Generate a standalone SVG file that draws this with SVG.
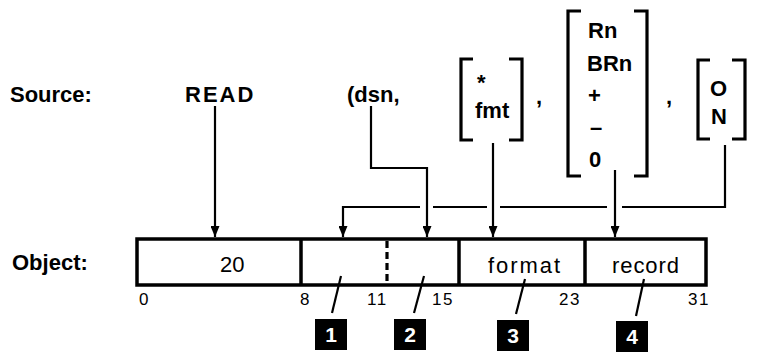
<svg xmlns="http://www.w3.org/2000/svg" width="765" height="353" viewBox="0 0 765 353">
<defs>
<marker id="ah" viewBox="0 0 11 9" refX="11" refY="4.5" markerWidth="11" markerHeight="9" markerUnits="userSpaceOnUse" orient="auto">
<path d="M0,0 L11,4.5 L0,9 Z" fill="#000"/>
</marker>
</defs>
<style>
text{font-family:"Liberation Sans",Arial,sans-serif;fill:#000}
.lbl{font-weight:bold;font-size:22px}
.src{font-weight:bold;font-size:22px}
.fld{font-size:22px}
.bit{font-size:17px}
.bt{font-weight:bold;font-size:21px;fill:#fff;text-anchor:middle}
.ln{fill:none;stroke:#000;stroke-width:2.2}
.box{fill:none;stroke:#000;stroke-width:3.5}
.br{fill:none;stroke:#000;stroke-width:3.2}
.bx{fill:#000}
</style>
<g id="labels">
<text class="lbl" x="10" y="102">Source:</text>
<text class="lbl" x="12" y="270">Object:</text>
</g>
<g id="source">
<text class="src" x="185" y="102" letter-spacing="2">READ</text>
<text class="src" x="347" y="102">(dsn,</text>
<g id="fmt-group">
<path class="br" d="M473,59 H461 V140 H473"/>
<path class="br" d="M509,59 H522 V140 H509"/>
<text class="src" x="477" y="90">*</text>
<text class="src" x="475" y="118">fmt</text>
</g>
<text class="src" x="536" y="104">,</text>
<g id="rec-group">
<path class="br" d="M581,11 H568 V176 H581"/>
<path class="br" d="M634,11 H647 V176 H634"/>
<text class="src" x="588" y="38">Rn</text>
<text class="src" x="587" y="71">BRn</text>
<text class="src" x="588" y="103">+</text>
<text class="src" x="590" y="135">–</text>
<text class="src" x="589" y="167">0</text>
</g>
<text class="src" x="666" y="104">,</text>
<g id="on-group">
<path class="br" d="M710,60 H698 V139 H710"/>
<path class="br" d="M732,60 H745 V139 H732"/>
<text class="src" x="710" y="96">O</text>
<text class="src" x="711" y="124">N</text>
</g>
</g>
<g id="connectors">
<path class="ln" d="M215,106 V237" marker-end="url(#ah)"/>
<path class="ln" d="M371,106 V168 H427 V237" marker-end="url(#ah)"/>
<path class="ln" d="M725,145 V207 H622"/>
<path class="ln" d="M607,207 H500"/>
<path class="ln" d="M487,207 H433"/>
<path class="ln" d="M420,207 H343 V237" marker-end="url(#ah)"/>
<path class="ln" d="M493,143 V237" marker-end="url(#ah)"/>
<path class="ln" d="M615,170 V237" marker-end="url(#ah)"/>
<path class="ln" d="M341,276 L332,313"/>
<path class="ln" d="M424,276 L414,313"/>
<path class="ln" d="M525,279 L516,314"/>
<path class="ln" d="M644,279 L636,316"/>
</g>
<g id="object">
<rect class="box" x="137" y="239" width="569" height="46"/>
<path class="box" d="M301,239 V285 M459,239 V285 M585,239 V285"/>
<path d="M387,241 V283" stroke="#000" stroke-width="3.2" stroke-dasharray="7,4"/>
<text class="fld" x="220" y="272">20</text>
<text class="fld" x="488" y="273" textLength="72">format</text>
<text class="fld" x="612" y="273" textLength="67">record</text>
<text class="bit" x="139" y="305">0</text>
<text class="bit" x="300" y="305">8</text>
<text class="bit" x="367" y="305" letter-spacing="1.5">11</text>
<text class="bit" x="432" y="305" letter-spacing="1.5">15</text>
<text class="bit" x="559" y="305" letter-spacing="1.5">23</text>
<text class="bit" x="688" y="305" letter-spacing="1.5">31</text>
</g>
<g id="badge1"><rect class="bx" x="315" y="319" width="32" height="31"/><text class="bt" x="331" y="342">1</text></g>
<g id="badge2"><rect class="bx" x="394" y="319" width="32" height="31"/><text class="bt" x="410" y="342">2</text></g>
<g id="badge3"><rect class="bx" x="497" y="320" width="32" height="31"/><text class="bt" x="513" y="343">3</text></g>
<g id="badge4"><rect class="bx" x="616" y="321" width="32" height="31"/><text class="bt" x="632" y="344">4</text></g>
</svg>
